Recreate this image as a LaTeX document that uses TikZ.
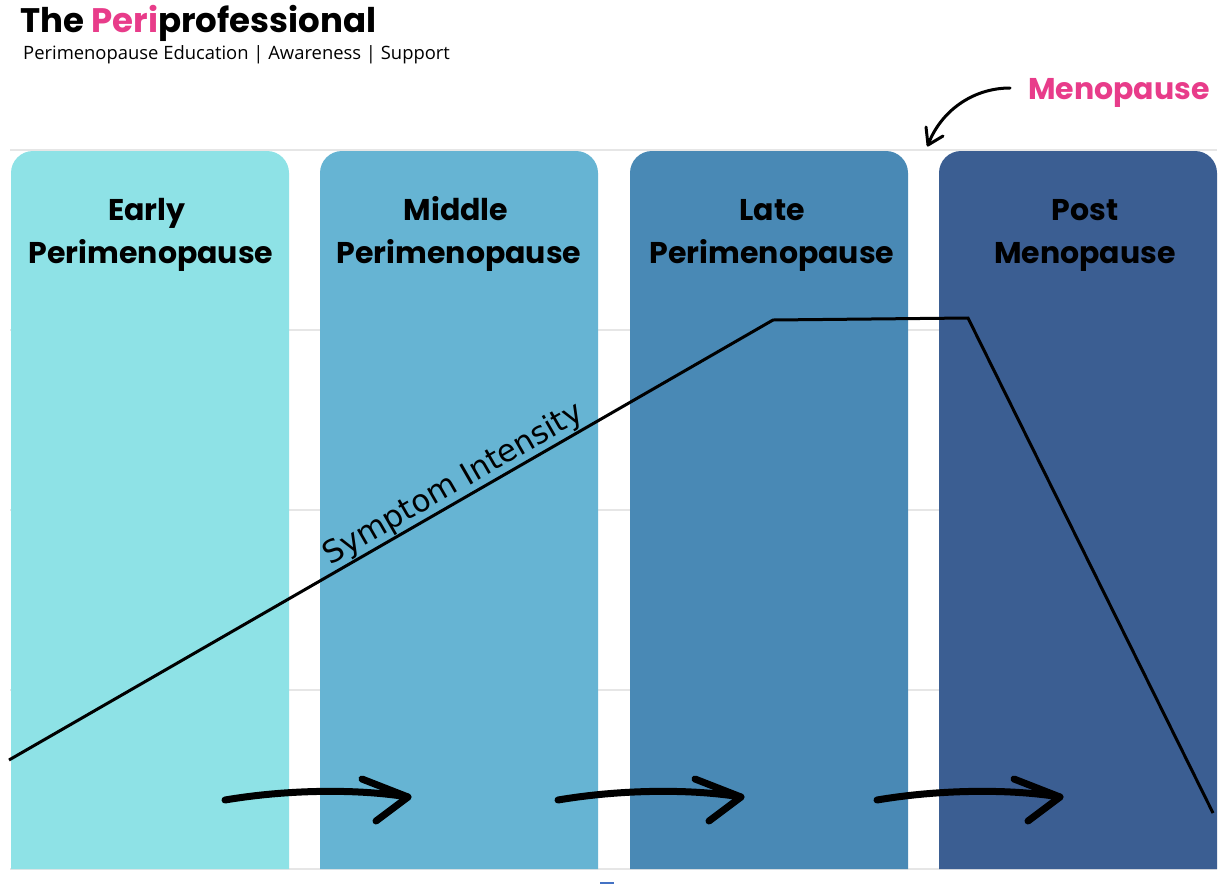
\documentclass[tikz,border=0pt]{standalone}
\usepackage{fontspec}
\setmainfont{Open Sans}
\newfontfamily\popfont{Poppins}
\newfontfamily\dvfont{DejaVu Sans}
\definecolor{barA}{HTML}{8EE2E6}
\definecolor{barB}{HTML}{66B4D3}
\definecolor{barC}{HTML}{4989B5}
\definecolor{barD}{HTML}{3B5E92}
\definecolor{pinkc}{HTML}{E83C8A}
\definecolor{gridc}{HTML}{E6E6E6}
\definecolor{markc}{HTML}{4472C4}
\tikzset{
  barshape/.style={rounded corners=22pt},
  gridline/.style={draw=gridc, line width=1.5pt},
  headtext/.style={anchor=base, inner sep=0pt, font=\popfont\bfseries\fontsize{30}{30}\selectfont},
  handarrow/.style={line width=7pt, line cap=round, line join=round},
  intensity/.style={line width=3pt},
}
\begin{document}
\begin{tikzpicture}[x=1pt,y=-1pt]
\useasboundingbox (0,0) rectangle (1230,884);
\fill[white] (0,0) rectangle (1230,884);
% grid lines
\foreach \yy in {150,330,510,690,869}
  \draw[gridline] (10,\yy) -- (1217,\yy);
% bars
\fill[barA, barshape] (11,869) -- (11,151) -- (289,151) -- (289,869);
\fill[barB, barshape] (320,869) -- (320,151) -- (598,151) -- (598,869);
\fill[barC, barshape] (630,869) -- (630,151) -- (908,151) -- (908,869);
\fill[barD, barshape] (939,869) -- (939,151) -- (1217,151) -- (1217,869);
% titles
\node[anchor=base west, inner sep=0pt, font=\popfont\bfseries\fontsize{34}{34}\selectfont] (title) at (20,32) {The {\color{pinkc}Peri}professional};
\node[anchor=base west, inner sep=0pt, font=\fontsize{18.4}{18.4}\selectfont] (subtitle) at (23,59) {Perimenopause Education | Awareness | Support};
% bar headings
\node[headtext] (h1a) at (147,220) {Early};
\node[headtext] (h1b) at (151,263) {Perimenopause};
\node[headtext] (h2a) at (456,220) {Middle};
\node[headtext] (h2b) at (459,263) {Perimenopause};
\node[headtext] (h3a) at (772,220) {Late};
\node[headtext] (h3b) at (772,263) {Perimenopause};
\node[headtext] (h4a) at (1085,220) {Post};
\node[headtext] (h4b) at (1085,263) {Menopause};
% menopause label and arrow
\node[anchor=base west, inner sep=0pt, text=pinkc, font=\popfont\bfseries\fontsize{30}{30}\selectfont] (meno) at (1028,99) {Menopause};
\coordinate (mstart) at (1010,88);
\coordinate (mtip) at (928,145);
\draw[line width=3pt, line cap=round] (mstart) .. controls (972,88) and (940,112) .. (mtip);
\draw[line width=3pt, line cap=round, line join=round] (926,127) -- (mtip) -- (943,136);
% symptom intensity line
\coordinate (s0) at (9,760);
\coordinate (s1) at (773,320);
\coordinate (s2) at (968,318);
\coordinate (s3) at (1213,813);
\draw[intensity] (s0) -- (s1) -- (s2) -- (s3);
\path (s0) -- (s1) node[pos=0.593, sloped, above=1.5pt, inner sep=0pt, font=\dvfont\fontsize{31}{31}\selectfont] (sym) {Symptom Intensity};
% bottom hand arrows
\foreach \dx/\nm in {0/a, 333/b, 652/c} {
  \coordinate (ta\nm) at (225+\dx,800);
  \coordinate (tb\nm) at (408+\dx,797);
  \draw[handarrow] (ta\nm) .. controls (290+\dx,789) and (360+\dx,789) .. (tb\nm);
  \draw[handarrow] (362+\dx,779) -- (tb\nm) -- (376+\dx,821);
}
% small mark
\fill[markc] (600,881.5) rectangle (614,884);
\end{tikzpicture}
\end{document}
